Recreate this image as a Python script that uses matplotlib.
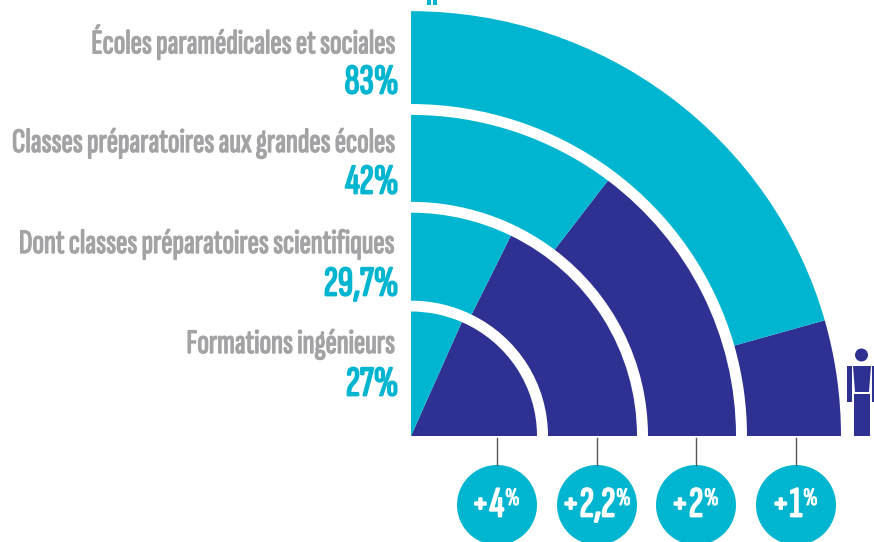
import matplotlib
matplotlib.use('Agg')
import matplotlib.pyplot as plt
import matplotlib.patheffects as pe
from matplotlib.patches import Wedge, Circle, Rectangle, Polygon
from matplotlib.transforms import Affine2D

labels = ['Formations ingénieurs', 'Dont classes préparatoires scientifiques',
          'Classes préparatoires aux grandes écoles', 'Écoles paramédicales et sociales']
shares = [27, 29.7, 42, 83]
share_text = ['27%', '29,7%', '42%', '83%']
gains = ['+4', '+2,2', '+2', '+1']

cyan = '#00b5cf'
blue = '#2e3192'
grey = '#a3a3a5'
font = ['Sofia Sans Extra Condensed', 'Barlow Condensed', 'DejaVu Sans']

H = 542
fig = plt.figure(figsize=(8.74, 5.42), dpi=100)
ax = fig.add_axes([0, 0, 1, 1])
ax.set_xlim(0, 874)
ax.set_ylim(0, H)
ax.axis('off')

cx, cy = 411, H - 436
inner = [0, 137, 237, 336]
outer = [126, 226, 325, 430]
label_y = [344, 244, 143, 42]
value_y = [385, 285, 183, 83]
gain_x = [504, 615, 703, 802]
circle_x = [497, 597, 696, 796]
tilt = 0.5  # the drawn splits sit a bit past the exact share


def heavy(width, colour):
    # this family only comes in a light cut here, so thicken it
    return [pe.withStroke(linewidth=width, foreground=colour)]


# the quarter circles are a little flatter than they are wide
squash = Affine2D().translate(-cx, -cy).scale(1, 0.988).translate(cx, cy) + ax.transData

for i in range(4):
    # the blue part starts at the baseline, the share fills the rest of the quarter
    angle = 90 * (1 - shares[i] / 100) + tilt
    w = outer[i] - inner[i]
    ax.add_patch(Wedge((cx, cy), outer[i], 0, angle, width=w, fc=blue, ec='none', transform=squash))
    ax.add_patch(Wedge((cx, cy), outer[i], angle, 90, width=w, fc=cyan, ec='none', transform=squash))
    ax.text(395.5, H - label_y[i], labels[i], ha='right', va='center', color=grey,
            fontsize=24.6, family=font, path_effects=heavy(1.0, grey))
    ax.text(398.5, H - value_y[i], share_text[i], ha='right', va='center', color=cyan,
            fontsize=30.5, family=font, path_effects=heavy(1.3, cyan))

    ax.plot([circle_x[i], circle_x[i]], [H - 438, H - 465], color='#555555', lw=1)
    ax.add_patch(Circle((circle_x[i], H - 505), 40, fc=cyan, ec='none'))
    ax.text(gain_x[i], H - 506, gains[i], ha='right', va='center', color='white',
            fontsize=31, family=font, path_effects=heavy(1.3, 'white'))
    ax.text(gain_x[i] + 1, H - 499, '%', ha='left', va='center', color='white',
            fontsize=18, family=font, path_effects=heavy(0.7, 'white'))

# bits of a cropped mark at the top edge
ax.add_patch(Rectangle((427, H - 5), 4, 5, fc=cyan, ec='none'))
ax.add_patch(Rectangle((433, H - 5), 4, 5, fc=cyan, ec='none'))

# little man
ax.add_patch(Circle((861.5, H - 355), 6.5, fc=blue, ec='none'))
ax.add_patch(Rectangle((847, H - 402), 5, 36, fc=blue, ec='none'))
ax.add_patch(Rectangle((872, H - 402), 2, 36, fc=blue, ec='none'))
ax.add_patch(Polygon([(853, H - 366), (871, H - 366), (869, H - 392), (855, H - 392)], fc=blue, ec='none'))
ax.add_patch(Rectangle((854, H - 436), 16, 42, fc=blue, ec='none'))

fig.savefig('out.png', dpi=100)
